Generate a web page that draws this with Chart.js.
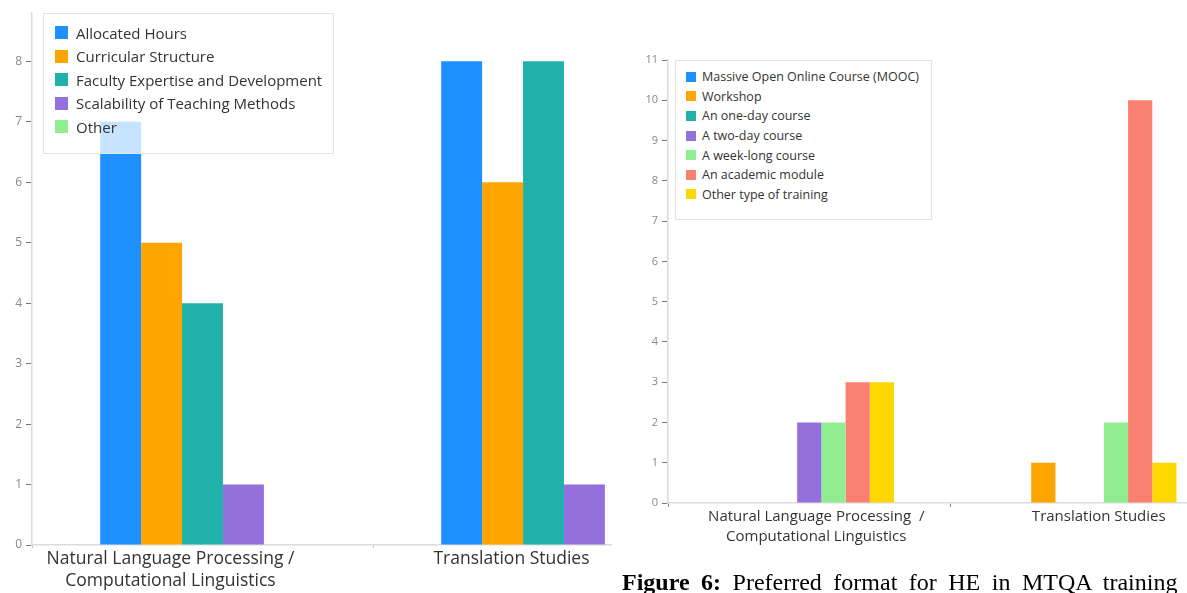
<!DOCTYPE html>
<html>
<head>
<meta charset="utf-8">
<script src="https://cdn.jsdelivr.net/npm/chart.js@4.4.1/dist/chart.umd.min.js"></script>
<style>
  html, body { margin: 0; padding: 0; background: #fff; }
  body { width: 1187px; height: 593px; position: relative; overflow: hidden; font-family: "Open Sans", sans-serif; }
  .panel { position: absolute; top: 0; overflow: hidden; }
  .legend { position: absolute; box-sizing: border-box; border: 1px solid #e3e3e3; color: #333; }
  .legend .row { display: flex; align-items: center; white-space: nowrap; }
  .legend .sw { flex: none; }
  #caption { position: absolute; left: 622px; top: 570px; font-family: "Liberation Serif", "Times New Roman", serif;
             font-size: 24px; line-height: 1; white-space: nowrap; color: #000; word-spacing: 5.5px; }
</style>
</head>
<body>
<div class="panel" id="leftPanel" style="left:0; width:612px; height:593px;">
  <canvas id="left" width="716" height="593"></canvas>
</div>
<div class="legend" id="leftLegend" style="left:43px; top:13px; width:291px; height:141px; background:rgba(255,255,255,0.75); padding-top:7px; font-size:15px;"></div>

<div class="panel" id="rightPanel" style="left:620px; width:567px; height:575px;">
  <canvas id="right" width="615" height="575"></canvas>
</div>
<div class="legend" id="rightLegend" style="left:675px; top:60px; width:257px; height:160px; background:#fff; padding-top:6px; font-size:12.5px;"></div>

<div id="caption"><b>Figure 6:</b> Preferred format for HE in MTQA training</div>

<script>
// ---- left chart data ----
const leftCategories = [['Natural Language Processing /', 'Computational Linguistics'], 'Translation Studies'];
const leftSeriesNames = ['Allocated Hours', 'Curricular Structure', 'Faculty Expertise and Development', 'Scalability of Teaching Methods', 'Other'];
const allocatedHours = [7, 8];
const curricularStructure = [5, 6];
const facultyExpertise = [4, 8];
const scalabilityTeaching = [1, 1];
const otherFactor = [0, 0];
const leftColors = ['#1e90ff', '#ffa500', '#20b2aa', '#9370db', '#90ee90'];

// ---- right chart data ----
const rightCategories = [['Natural Language Processing  /', 'Computational Linguistics'], 'Translation Studies'];
const rightSeriesNames = ['Massive Open Online Course (MOOC)', 'Workshop', 'An one-day course', 'A two-day course', 'A week-long course', 'An academic module', 'Other type of training'];
const mooc = [0, 0];
const workshop = [0, 1];
const oneDayCourse = [0, 0];
const twoDayCourse = [2, 0];
const weekLongCourse = [2, 2];
const academicModule = [3, 10];
const otherTraining = [3, 1];
const rightColors = ['#1e90ff', '#ffa500', '#20b2aa', '#9370db', '#90ee90', '#fa8072', '#ffd700'];

function makeDatasets(names, values, colors) {
    let out = [];
    for (let i = 0; i < names.length; i++) {
        out.push({
            label: names[i],
            data: values[i],
            backgroundColor: colors[i],
            borderWidth: 0,
            categoryPercentage: 0.6,
            barPercentage: 1.0
        });
    }
    return out;
}

// html legend, drawn over the plot like the original
function buildLegend(chart, el, box, textGap, rowH) {
    chart.data.datasets.forEach(function(ds) {
        let row = document.createElement('div');
        row.className = 'row';
        row.style.height = rowH + 'px';
        row.style.paddingLeft = box.pad + 'px';
        let sw = document.createElement('span');
        sw.className = 'sw';
        sw.style.width = box.size + 'px';
        sw.style.height = box.size + 'px';
        sw.style.background = ds.backgroundColor;
        sw.style.marginRight = textGap + 'px';
        let txt = document.createElement('span');
        txt.textContent = ds.label;
        row.appendChild(sw);
        row.appendChild(txt);
        el.appendChild(row);
    });
}

Chart.defaults.font.family = '"Open Sans", sans-serif';
Chart.defaults.animation = false;

const leftChart = new Chart(document.getElementById('left'), {
    type: 'bar',
    data: {
        labels: leftCategories,
        datasets: makeDatasets(leftSeriesNames,
            [allocatedHours, curricularStructure, facultyExpertise, scalabilityTeaching, otherFactor], leftColors)
    },
    options: {
        responsive: false,
        layout: { padding: { top: 13, right: 2, left: 0, bottom: 0 } },
        plugins: { legend: { display: false }, tooltip: { enabled: false } },
        scales: {
            x: {
                grid: { drawOnChartArea: false, tickLength: 3, color: '#bbb' },
                border: { color: '#dcdcdc', width: 1.5 },
                ticks: { color: '#333', font: { size: 17.5, lineHeight: 1.26 }, padding: 0, maxRotation: 0, autoSkip: false, labelOffset: -32 },
                afterFit: function(scale) { scale.height = 48; }
            },
            y: {
                min: 0, max: 8.8,
                grid: { drawOnChartArea: false, tickLength: 6, color: '#777' },
                border: { color: '#dcdcdc', width: 1.5 },
                ticks: { stepSize: 1, color: '#888', font: { size: 12 }, padding: 4 },
                afterBuildTicks: function(scale) {
                    scale.ticks = scale.ticks.filter(function(t) { return Number.isInteger(t.value); });
                },
                afterFit: function(scale) { scale.width = 32; }
            }
        }
    }
});

const rightChart = new Chart(document.getElementById('right'), {
    type: 'bar',
    data: {
        labels: rightCategories,
        datasets: makeDatasets(rightSeriesNames,
            [mooc, workshop, oneDayCourse, twoDayCourse, weekLongCourse, academicModule, otherTraining], rightColors)
    },
    options: {
        responsive: false,
        layout: { padding: { top: 60, right: 2, left: 0, bottom: 0 } },
        plugins: { legend: { display: false }, tooltip: { enabled: false } },
        scales: {
            x: {
                grid: { drawOnChartArea: false, tickLength: 4, color: '#888' },
                border: { color: '#dcdcdc', width: 1.5 },
                ticks: { color: '#333', font: { size: 15, lineHeight: 1.33 }, padding: 0, maxRotation: 0, autoSkip: false, labelOffset: 7 },
                afterFit: function(scale) { scale.height = 72; }
            },
            y: {
                min: 0, max: 11,
                grid: { drawOnChartArea: false, tickLength: 6, color: '#777' },
                border: { color: '#dcdcdc', width: 1.5 },
                ticks: { stepSize: 1, color: '#888', font: { size: 11 }, padding: 4 },
                afterFit: function(scale) { scale.width = 48; }
            }
        }
    }
});

buildLegend(leftChart, document.getElementById('leftLegend'), { size: 13, pad: 11 }, 8, 23.5);
buildLegend(rightChart, document.getElementById('rightLegend'), { size: 10, pad: 10 }, 6, 19.6);
</script>
</body>
</html>
